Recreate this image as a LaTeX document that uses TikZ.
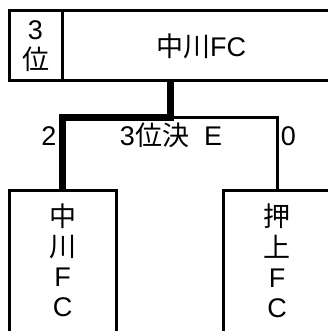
\documentclass[tikz,border=0pt]{standalone}
\usepackage{fontspec}
\setmainfont{Liberation Sans}
\newfontfamily\jpfont{Noto Sans CJK JP}
\usetikzlibrary{positioning}
\newcommand{\ja}[1]{{\jpfont #1}}
\newcommand{\tate}[1]{\begin{tabular}[t]{@{}c@{}}#1\end{tabular}}
\tikzset{
    teambox/.style = {rectangle,draw,line width=3pt,inner sep=0pt,outer sep=0pt,align=center},
    colbox/.style = {teambox,anchor=north,minimum height=160pt,text height=32pt,text depth=120pt},
    winline/.style = {line width=7pt},
    loseline/.style = {line width=3pt},
    score/.style = {anchor=base,inner sep=0pt}}

\begin{document}
\begin{tikzpicture}[x=1pt,y=-1pt,font=\fontsize{27}{30}\selectfont]
        \useasboundingbox (0,0) rectangle (328,331);
        \clip (0,0) rectangle (328,331);
        % top row
        \node[teambox,minimum width=53pt,minimum height=70pt] (rank) at (35.5,46) {3\\\ja{位}};
        \node[teambox,minimum width=278pt,minimum height=70pt,right=0pt of rank] (winner) {\ja{中川}FC};
        % bottom row
        \node[colbox,minimum width=107pt] (home) at (62.5,190) {\tate{\ja{中}\\\ja{川}\\F\\C}};
        \node[colbox,minimum width=108pt] (away) at (277,190) {\tate{\ja{押}\\\ja{上}\\F\\C}};
        \coordinate (junction) at (170,118);
        \node[score] (homescore) at (49,146) {2};
        \node[score] (awayscore) at (288.5,146) {0};
        \node[score] (match) at (171,146) {3\ja{位決}~~E};
        \draw[loseline] (junction) -| (away.north);
        \draw[winline] (junction |- winner.south) -- (junction) -| (home.north);
    \end{tikzpicture}
\end{document}
